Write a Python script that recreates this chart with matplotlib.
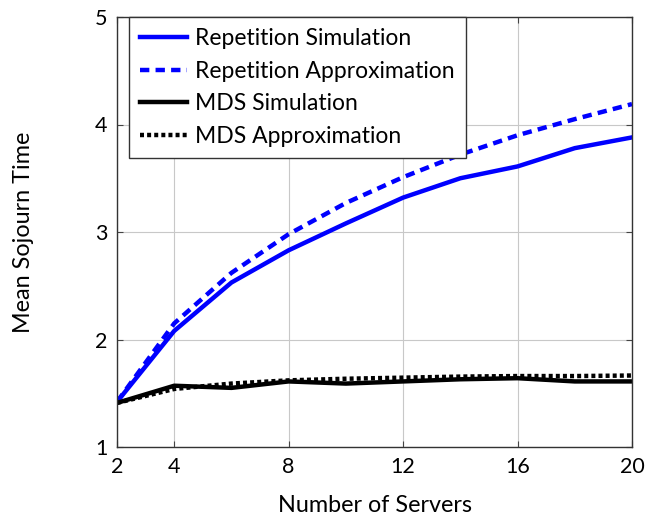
import matplotlib
matplotlib.use("Agg")
import matplotlib.pyplot as plt

servers = [2, 4, 6, 8, 10, 12, 14, 16, 18, 20]
rep_sim = [1.42, 2.08, 2.53, 2.83, 3.08, 3.32, 3.50, 3.61, 3.78, 3.88]
rep_approx = [1.42, 2.15, 2.62, 2.98, 3.27, 3.51, 3.72, 3.90, 4.05, 4.19]
mds_sim = [1.41, 1.57, 1.55, 1.61, 1.59, 1.61, 1.63, 1.64, 1.61, 1.61]
mds_approx = [1.41, 1.54, 1.59, 1.62, 1.635, 1.645, 1.655, 1.66, 1.66, 1.665]
xticks = [2, 4, 8, 12, 16, 20]
yticks = [1, 2, 3, 4, 5]

plt.rcParams['font.family'] = ['Lato', 'DejaVu Sans']
fig = plt.figure(figsize=(6.47, 5.16), dpi=100)
ax = fig.add_axes([117/647, 1-447/516, (632-117)/647, (447-17)/516])

lw = 3.2
ax.plot(servers, rep_sim, color='#0000ff', lw=lw, label='Repetition Simulation')
ax.plot(servers, rep_approx, color='#0000ff', lw=lw, ls=(0, (2.1, 1.4)), label='Repetition Approximation')
ax.plot(servers, mds_sim, color='black', lw=lw, label='MDS Simulation')
ax.plot(servers, mds_approx, color='black', lw=lw, ls=(0, (0.9, 0.7)), label='MDS Approximation')

ax.set_xlim(2, 20)
ax.set_ylim(1, 5)
ax.set_xticks(xticks)
ax.set_yticks(yticks)
ax.grid(True, color='#c8c8c8', lw=0.8)
ax.set_axisbelow(True)
ax.tick_params(direction='in', top=True, right=True, labelsize=15.5, length=4, color='#444444', pad=7)
for s in ax.spines.values():
    s.set_color('#333333')
    s.set_linewidth(1.0)

ax.set_xlabel('Number of Servers', fontsize=16.8, labelpad=13)
ax.set_ylabel('Mean Sojourn Time', fontsize=16.8, labelpad=44)

leg = ax.legend(loc='upper left', fontsize=16.5, fancybox=False, framealpha=1,
                edgecolor='#333333', borderaxespad=0.0, handlelength=2.05,
                borderpad=0.5, labelspacing=0.5, handletextpad=0.35,
                bbox_to_anchor=(0.023, 1.0))
leg.get_frame().set_linewidth(1.0)

fig.savefig('out.png', dpi=100)
